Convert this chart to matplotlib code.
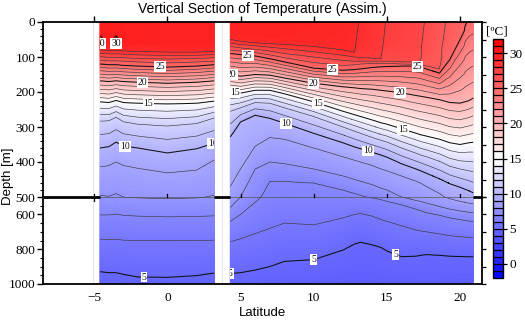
import numpy as np
import matplotlib
matplotlib.use("Agg")
import matplotlib.pyplot as plt
from matplotlib.colors import Normalize
from matplotlib.cm import ScalarMappable
from matplotlib.transforms import TransformedBbox, Bbox

# ---------------- data ----------------
# latitude knots (west panel: -4.6..3.2, east panel: 4.3..21)
lat_knots = [-4.6, -4.0, -3.5, -3.0, -2.0, 0.0, 2.0, 3.2,
             4.3, 5.0, 6.0, 7.0, 8.0, 10.0, 12.0, 12.8, 13.2, 14.0, 14.6, 15.0,
             16.0, 17.0, 17.3, 17.7, 18.6, 19.3, 20.0, 20.6, 21.0]
sst = [29.85, 29.85, 29.85, 29.85, 29.8, 29.7, 29.7, 29.7,
       29.6, 29.6, 29.6, 29.6, 29.6, 29.5, 29.4, 29.2, 28.9, 28.6, 28.3, 27.9,
       27.7, 27.4, 27.2, 26.9, 26.3, 25.8, 25.4, 24.9, 24.7]
# base of mixed layer: depth and temperature
z_ml = [60, 60, 60, 60, 60, 60, 60, 60,
        42, 46, 50, 52, 54, 58, 64, 66, 64, 64, 64, 64,
        66, 68, 70, 70, 70, 50, 25, 5, 3]
t_ml = [30.08, 29.95, 30.08, 29.9, 29.8, 29.7, 29.7, 29.7,
        29.45, 29.45, 29.45, 29.45, 29.45, 29.35, 29.25, 29.05, 28.75, 28.45, 28.15, 27.75,
        27.55, 27.25, 27.05, 26.75, 26.15, 25.65, 25.25, 24.8, 24.6]
# isotherm depths [m]
z29 = [80, 82, 82, 83, 85, 86, 86, 85,
       50, 55, 60, 62, 64, 70, 80, 87, 0, 0, 0, 0, 0, 0, 0, 0, 0, 0, 0, 0, 0]
z28 = [89, 91, 91, 92, 94, 96, 95, 93,
       60, 64, 68, 72, 76, 85, 95, 100, 102, 104, 106, 0, 0, 0, 0, 0, 0, 0, 0, 0, 0]
z27 = [99, 101, 101, 102, 104, 106, 104, 102,
       70, 74, 78, 83, 90, 100, 110, 112, 112, 112, 112, 112, 114, 116, 118, 0, 0, 0, 0, 0, 0]
z26 = [109, 111, 111, 112, 114, 117, 114, 112,
       80, 83, 87, 94, 102, 116, 124, 122, 120, 118, 118, 118, 120, 121, 122, 126, 135, 0, 0, 0, 0]
z25 = [120, 122, 122, 124, 126, 129, 126, 122,
       90, 93, 97, 105, 114, 132, 138, 136, 134, 130, 128, 127, 126, 126, 128, 134, 146, 108, 51, 0, 0]
z20 = [168, 170, 168, 170, 172, 175, 172, 168,
       150, 155, 150, 152, 160, 175, 185, 188, 190, 192, 195, 197, 202, 210, 212, 215, 222, 230, 232, 225, 215]
z15 = [228, 230, 224, 230, 232, 234, 232, 226,
       200, 203, 195, 195, 205, 228, 255, 265, 270, 280, 288, 292, 305, 318, 322, 326, 335, 345, 350, 345, 343]
z12 = [283, 282, 272, 285, 292, 297, 290, 274,
       255, 245, 230, 232, 245, 270, 300, 312, 318, 330, 338, 343, 360, 375, 380, 385, 398, 412, 420, 425, 429]
z10 = [360, 356, 343, 354, 360, 374, 362, 346,
       328, 285, 266, 275, 289, 318, 345, 357, 362, 372, 380, 386, 405, 420, 425, 432, 448, 462, 472, 482, 490]
z9 = [414, 410, 400, 410, 418, 431, 423, 394,
      470, 420, 355, 330, 335, 360, 385, 395, 400, 410, 420, 425, 440, 455, 460, 470, 490, 510, 525, 535, 540]
z8 = [495, 498, 490, 500, 505, 510, 505, 495,
      560, 500, 420, 400, 405, 420, 440, 450, 455, 465, 475, 480, 500, 520, 525, 535, 555, 570, 580, 588, 591]
z7 = [603, 603, 598, 605, 610, 614, 612, 608,
      640, 600, 530, 455, 455, 460, 480, 490, 495, 505, 515, 525, 545, 570, 578, 590, 605, 620, 630, 638, 643]
z6 = [743, 745, 742, 748, 750, 751, 750, 748,
      757, 740, 710, 680, 650, 660, 620, 600, 595, 610, 630, 640, 665, 690, 695, 700, 712, 722, 728, 732, 734]
z5 = [929, 935, 935, 945, 960, 962, 952, 937,
      940, 935, 920, 900, 870, 860, 805, 770, 760, 775, 790, 810, 843, 840, 835, 831, 835, 840, 842, 843, 843]
t_1000 = [4.65, 4.65, 4.65, 4.62, 4.6, 4.6, 4.6, 4.62,
          4.62, 4.62, 4.6, 4.55, 4.5, 4.45, 4.35, 4.3, 4.3, 4.32, 4.35, 4.38,
          4.42, 4.42, 4.42, 4.42, 4.42, 4.42, 4.42, 4.42, 4.42]

iso_temps = [29, 28, 27, 26, 25, 20, 15, 12, 10, 9, 8, 7, 6, 5]
iso_depths = [z29, z28, z27, z26, z25, z20, z15, z12, z10, z9, z8, z7, z6, z5]

west_range = (-4.6, 3.2)
east_range = (4.3, 20.9)
lat_ticks = [-5, 0, 5, 10, 15, 20]

# ---------------- build the field ----------------
depth = np.linspace(0, 1000, 501)


def column(lat):
    lk = np.array(lat_knots)
    f = lambda arr: float(np.interp(lat, lk, arr))
    s, zm, tm = f(sst), f(z_ml), f(t_ml)
    zs, ts = [0.0, zm], [s, tm]
    for T, zarr in zip(iso_temps, iso_depths):
        z = f(zarr)
        if T < tm - 0.01 and z > zs[-1] + 0.5:
            zs.append(z)
            ts.append(T)
    zs.append(1000.0)
    ts.append(min(f(t_1000), ts[-1] - 0.01))
    return np.interp(depth, zs, ts)


def panel(rng, n):
    lats = np.linspace(rng[0], rng[1], n)
    T = np.column_stack([column(la) for la in lats])
    return lats, T


lat_w, T_w = panel(west_range, 157)
lat_e, T_e = panel(east_range, 333)

# ---------------- figure ----------------
W, H = 525, 321
fig = plt.figure(figsize=(W / 100, H / 100), dpi=100)
serif = "Liberation Serif"
sans = "Liberation Sans"

L, R = 43, 482
ax_bot = fig.add_axes([L / W, 1 - 284 / H, (R - L) / W, 87 / H])
ax_top = fig.add_axes([L / W, 1 - 197 / H, (R - L) / W, 175 / H])
ax_top.set_zorder(3)
ax_top.patch.set_visible(False)
cax = fig.add_axes([493 / W, 1 - 278 / H, 10 / W, 239 / H])

norm = Normalize(-2, 32)
cmap = plt.get_cmap("bwr")
levels = np.arange(4, 31, 1)
lab_levels = [5, 10, 15, 20, 25, 30]

top_labels_w = [(-4.6, 55), (-3.5, 61), (-0.5, 129), (-1.7, 174), (-1.3, 231), (-2.9, 357), (3.1, 346)]
top_labels_e = [(5.5, 94), (4.4, 157), (4.6, 206), (8.1, 289), (11.3, 140), (10.0, 174),
                (10.3, 229), (17.1, 126), (15.9, 203), (16.1, 309), (13.7, 371)]
bot_labels_w = [(-1.6, 951)]
bot_labels_e = [(4.3, 946), (10.0, 871), (15.6, 820)]

for ax, ylim in ((ax_top, (500, 0)), (ax_bot, (1000, 500))):
    for (lats, T, rng) in ((lat_w, T_w, west_range), (lat_e, T_e, east_range)):
        ax.pcolormesh(lats, depth, T, cmap=cmap, norm=norm, shading="gouraud", zorder=1)
        other = [l for l in levels if l not in lab_levels]
        ax.contour(lats, depth, T, levels=other, colors="#3a3a3a", linewidths=0.45, zorder=2)
        cs = ax.contour(lats, depth, T, levels=lab_levels, colors="#111111", linewidths=0.75, zorder=2)
        if ax is ax_top:
            pos = top_labels_w if rng is west_range else top_labels_e
        else:
            pos = bot_labels_w if rng is west_range else bot_labels_e
        texts = ax.clabel(cs, fmt="%d", fontsize=7, inline=True, inline_spacing=1, manual=pos)
        clipbox = TransformedBbox(Bbox([[rng[0], 0], [rng[1], 1000]]), ax.transData)
        for t in texts:
            t.set_rotation(0)
            t.set_fontfamily(serif)
            t.set_bbox(dict(facecolor="white", edgecolor="none", pad=0.6))
            t.set_clip_box(clipbox)
            t.set_clip_on(True)
    for xl in (-5.1, 3.7):
        ax.axvline(xl, color="#e4e4f2", lw=0.8, zorder=0.5)
    ax.set_xlim(-8.5, 21.5)
    ax.set_ylim(*ylim)
    ax.set_xticks(lat_ticks)
    for sp in ax.spines.values():
        sp.set_linewidth(1.3)

# 500 m break line: thick where no data, thin over data
ax_top.spines["bottom"].set_visible(False)
ax_bot.spines["top"].set_visible(False)
for x0, x1 in ((-8.5, west_range[0]), (west_range[1], east_range[0]), (east_range[1], 21.5)):
    ax_top.plot([x0, x1], [500, 500], color="k", lw=2.0, solid_capstyle="butt", zorder=5, clip_on=False)
ax_top.plot([-8.5, 21.5], [500, 500], color="#555555", lw=0.5, zorder=3, clip_on=False)
for xv in lat_ticks:
    ax_top.plot([xv, xv], [500, 490], color="k", lw=0.9, zorder=4, clip_on=False)
ax_top.plot([-5, -5], [500, 510], color="k", lw=0.9, zorder=4, clip_on=False)

# y ticks (left)
ax_top.set_yticks([0, 100, 200, 300, 400])
ax_top.set_yticks(np.arange(0, 501, 20), minor=True)
ax_bot.set_yticks([500, 600, 800, 1000])
ax_bot.set_yticks(np.arange(500, 1001, 50), minor=True)
for ax in (ax_top, ax_bot):
    ax.tick_params(axis="y", which="major", direction="out", length=4, width=1, labelsize=9.5, pad=1.5)
    ax.tick_params(axis="y", which="minor", direction="out", length=2, width=0.8)
    for lab in ax.get_yticklabels():
        lab.set_fontfamily(serif)

# right-hand ticks on a twin axis
for ax, ylim, step in ((ax_top, (500, 0), 50), (ax_bot, (1000, 500), 100)):
    tw = ax.twinx()
    tw.set_ylim(*ylim)
    tw.set_yticks(np.arange(ylim[1], ylim[0] + 1, step))
    tw.tick_params(axis="y", direction="out", length=3, width=0.9, labelright=False)
    for sp in tw.spines.values():
        sp.set_visible(False)
    tw.patch.set_visible(False)
    tw.set_zorder(ax.get_zorder() + 0.5)

ax_top.xaxis.set_ticks_position("top")
ax_top.tick_params(axis="x", which="major", direction="out", length=4, width=1, labeltop=False)
ax_bot.tick_params(axis="x", which="major", length=0, labelsize=9.5, pad=6)
for lab in ax_bot.get_xticklabels():
    lab.set_fontfamily(serif)

ax_bot.set_xlabel("Latitude", fontfamily=sans, fontsize=9.5, labelpad=2)
fig.text(8 / W, 1 - 176 / H, "Depth [m]", rotation=90, ha="center", va="center",
         fontfamily=sans, fontsize=9.5)
fig.text((L + R) / 2 / W, 1 - 9 / H, "Vertical Section of Temperature (Assim.)",
         ha="center", va="center", fontfamily=sans, fontsize=10)

# colorbar
bounds = np.arange(-2, 33, 1)
sm = ScalarMappable(norm=norm, cmap=cmap)
cb = fig.colorbar(sm, cax=cax, boundaries=bounds, values=(bounds[:-1] + bounds[1:]) / 2,
                  drawedges=True, ticks=[0, 5, 10, 15, 20, 25, 30])
cb.dividers.set_linewidth(0.9)
cb.dividers.set_color("k")
cb.outline.set_linewidth(1.0)
cax.tick_params(direction="out", length=3, width=0.9, labelsize=9.5, pad=1.5)
for lab in cax.get_yticklabels():
    lab.set_fontfamily(serif)
fig.text(497 / W, 1 - 32 / H, "[ºC]", ha="center", va="center", fontfamily=serif, fontsize=9.5)

fig.savefig("out.png", dpi=100)
